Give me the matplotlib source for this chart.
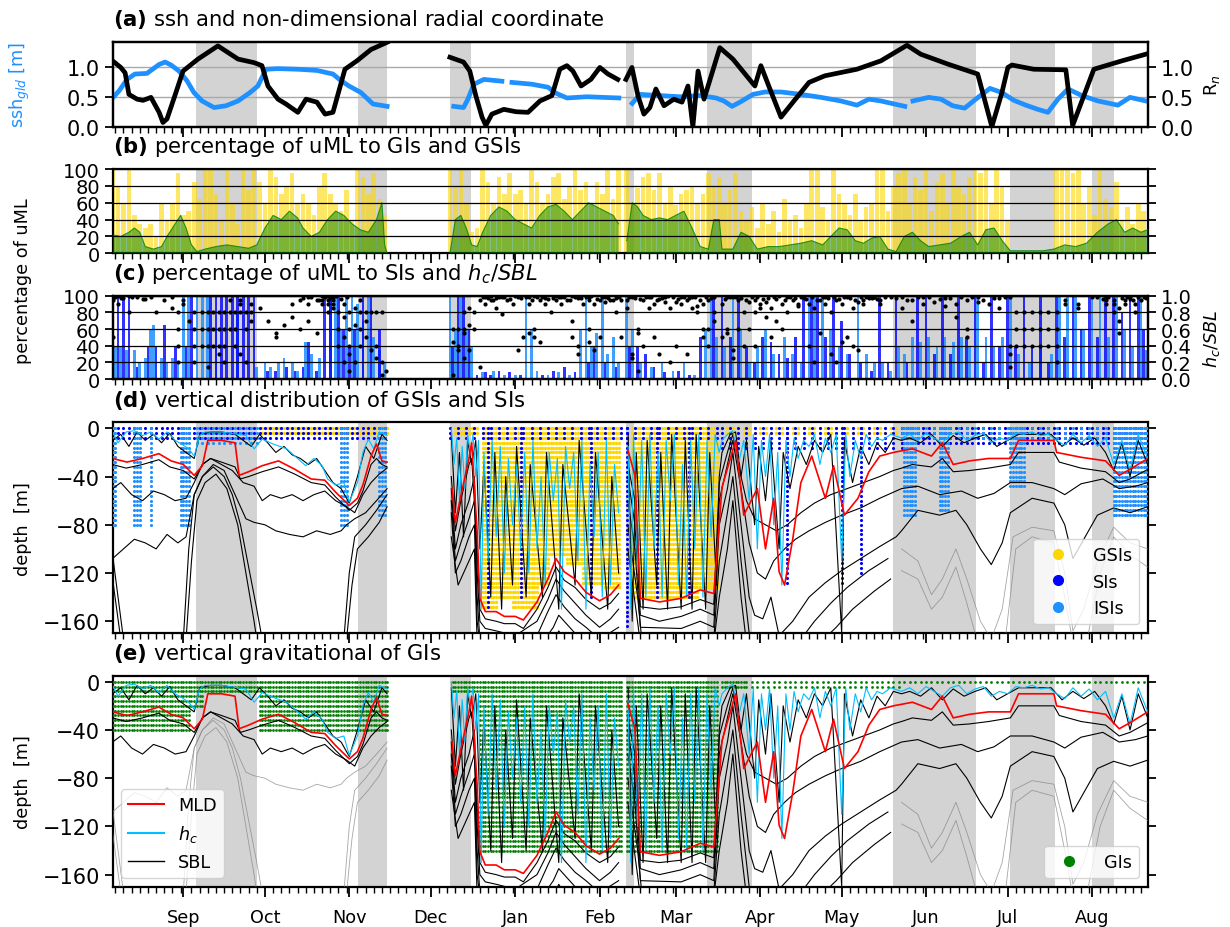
import numpy as np
import matplotlib
matplotlib.use('Agg')
import matplotlib.pyplot as plt
import matplotlib.dates as mdates
from matplotlib.lines import Line2D

plt.rcParams['font.family'] = ['DejaVu Sans']
plt.rcParams['font.size'] = 12.7
plt.rcParams['axes.linewidth'] = 1.6
YTS = 15     # y tick label size, panels a, d, e
YTS_S = 14   # y tick label size, narrow panels b, c

nan = np.nan
t0 = mdates.date2num(np.datetime64('2018-08-06'))   # left edge of the record
t_end = 380.6                                       # days shown

# shaded periods, days since t0
shade = [(30.6, 53.1), (90.2, 100.9), (124.0, 131.7), (188.7, 191.6),
         (218.5, 235.0), (286.8, 317.3), (329.8, 346.3), (359.9, 368.0)]

# ---------------- (a) ssh and R_n ----------------
ssh = [
    [(0, .48), (2.4, .60), (5.3, .79), (8.2, .88), (12.6, .89), (17.1, 1.04), (19.3, 1.08), (21.5, 1.03),
     (24.4, .93), (27.3, .77), (29.9, .57), (32.9, .43), (37.3, .32), (41.7, .35), (46.1, .43), (50.5, .57),
     (53.4, .68), (56.4, .96), (60.8, .97), (68.1, .96), (75.1, .94), (81, .88), (83.9, .77), (86.9, .68),
     (91.3, .57), (95.7, .38), (100.9, .34)],
    [(125.4, .34), (129, .32), (130.6, .46), (132.8, .71), (136.5, .79), (143.1, .76)],
    [(146.8, .74), (154.1, .71), (160, .66), (163, .56), (167, .48), (174.3, .50), (186.1, .48)],
    [(191, .39), (193.8, .54), (201.2, .52), (208.5, .50), (215.9, .52), (221.8, .48), (224.7, .43),
     (227.7, .34), (230.6, .41), (235.4, .54), (239.8, .58), (245.7, .58), (253, .54), (260.4, .49),
     (267.7, .43), (273.6, .36), (278, .46), (282.4, .43), (291.2, .34)],
    [(294.2, .43), (300, .49), (304.5, .46), (308.8, .35), (313.2, .31), (317.3, .46), (322.5, .64),
     (326.9, .57), (331.3, .44), (335.7, .36), (340.1, .29), (343.8, .24), (347.5, .46), (351.2, .63),
     (356.3, .52), (362.2, .43), (369.5, .36), (374, .49), (376.9, .46), (379.8, .43)],
]
rn = [
    [(0, 1.10), (3, .99), (4.6, .90), (6, .54), (9, .46), (11.2, .44), (14.1, .49), (17.1, .24), (18.5, .07),
     (20, .13), (22.9, .52), (25.9, .93), (31.4, 1.13), (38.7, 1.35), (46.1, 1.13), (52, 1.07), (54.9, 1.02),
     (57.1, .68), (60.8, .46), (63.7, .38), (68.1, .24), (71.1, .46), (75.1, .41), (78.1, .21), (81, .24),
     (85.4, .96), (89.8, 1.10), (95, 1.29), (100.9, 1.41)],
    [(124, 1.16), (129, 1.08), (131.3, .93), (133.5, .52), (135.8, .16), (137.2, .02), (139.4, .21),
     (143.8, .29), (148.3, .25), (152.7, .24), (157.1, .43), (161.5, .52), (164.4, .96), (167, 1.02),
     (169.2, .93), (172.2, .68), (175.8, .79), (179.1, .99), (182.1, .88), (185.7, .79)],
    [(188.7, .79), (190.9, .99), (193.1, .52), (195.3, .21), (197.5, .32), (199.7, .63), (202.7, .35),
     (206.3, .46), (209.3, .41), (211.5, .68), (213.3, 0.0), (215.2, .93), (217.4, .46), (223.2, 1.32),
     (228, 1.13), (236.1, .68), (238.3, 1.02), (241.2, .68), (245.7, .16), (250.1, .41), (256, .74),
     (261.8, .85), (273.6, .96), (282.4, 1.10), (292, 1.36), (297.1, 1.21), (307.4, 1.04), (318, .88),
     (323.2, 0.0), (326.9, .57), (329.1, .99), (330.6, 1.03), (338.6, .96), (350.4, .95), (352.9, .02),
     (360.7, .96), (371, 1.10), (380.5, 1.22)],
]

# ---------------- (b) GSIs (bars) and GIs (area), % of uML ----------------
gsi_day = [0, 2, 4, 6, 8, 10, 12, 14, 16, 18, 20, 22, 24, 26, 28, 30, 32, 34, 36, 38, 40, 42, 44, 46, 48, 50,
           52, 54, 56, 58, 60, 62, 64, 66, 68, 70, 72, 74, 76, 78, 80, 82, 84, 86, 88, 90, 92, 94, 96, 98, 100,
           124, 126, 128, 130, 132, 134, 136, 138, 140, 142, 144, 146, 148, 150, 152, 154, 156, 158, 160, 162,
           164, 166, 168, 170, 172, 174, 176, 178, 180, 182, 184, 186,
           189, 191, 193, 195, 197, 199, 201, 203, 205, 207, 209, 211, 213, 215, 217, 219, 221,
           223, 225, 227, 229, 231, 233, 235, 237, 239, 241, 243, 245, 247, 249, 251, 253, 255, 257, 259, 261,
           263, 265, 267, 269, 271, 273, 275, 277, 279, 281, 283, 285, 287, 289,
           291, 293, 295, 297, 299, 301, 303, 305, 307, 309, 311, 313, 315, 317, 319, 321, 323, 325, 327, 329,
           347, 349, 351, 353, 355, 357, 359, 361, 363, 365, 367, 369, 371, 373, 375, 377, 379]
gsi_pct = [100, 80, 60, 100, 45, 35, 30, 35, 20, 60, 40, 60, 95, 45, 50, 85, 65, 100, 100, 70, 40, 100, 60, 35,
           100, 75, 100, 85, 60, 100, 90, 70, 80, 95, 60, 70, 60, 45, 80, 95, 70, 60, 50, 75, 40, 100, 90, 70,
           95, 65, 45,
           100, 80, 100, 60, 25, 30, 100, 85, 60, 90, 70, 95, 70, 75, 60, 100, 85, 60, 70, 90, 95, 65, 80, 100,
           75, 85, 60, 85, 70, 100, 65, 100,
           100, 60, 77, 90, 95, 75, 95, 60, 80, 57, 70, 75, 80, 60, 70, 95, 80,
           90, 60, 75, 95, 50, 40, 55, 30, 60, 35, 50, 25, 65, 40, 45, 30, 60, 100, 100, 55, 40, 100, 70, 60,
           45, 70, 40, 55, 60, 100, 100, 50, 80, 95,
           100, 60, 90, 75, 100, 50, 85, 95, 60, 100, 80, 70, 90, 100, 95, 100, 60, 100, 80, 40,
           100, 100, 100, 95, 100, 60, 80, 45, 100, 65, 55, 85, 40, 55, 35, 60, 50]
gi_pct = [
    [(0, 22), (3, 20), (6, 25), (8, 30), (10, 25), (12, 8), (15, 5), (18, 8), (20, 20), (23, 35), (25, 45),
     (27, 30), (29, 10), (31, 2), (34, 5), (38, 8), (42, 10), (46, 8), (50, 6), (53, 10), (56, 30), (59, 45),
     (62, 40), (65, 50), (68, 42), (70, 30), (73, 20), (76, 25), (79, 40), (82, 50), (85, 45), (88, 35),
     (91, 28), (94, 25), (97, 40), (99, 60), (100, 10), (100.9, 0)],
    [(124, 0), (126, 40), (128, 45), (130, 30), (132, 10), (134, 8), (136, 25), (139, 45), (142, 55), (145, 50),
     (148, 40), (151, 35), (154, 30), (157, 45), (160, 55), (163, 58), (166, 50), (169, 40), (172, 50),
     (175, 60), (178, 55), (181, 50), (184, 45), (186, 35)],
    [(189, 15), (191, 60), (193, 55), (195, 45), (198, 40), (201, 42), (204, 40), (207, 45), (210, 50),
     (213, 30), (216, 8), (219, 5), (221, 40), (223, 40), (224, 5), (228, 5), (231, 25), (234, 20), (237, 5),
     (241, 8), (245, 8), (249, 10), (253, 12), (257, 15), (261, 10), (264, 20), (267, 30), (270, 28),
     (273, 15), (276, 12), (279, 18), (282, 20), (285, 5), (288, 2), (291, 20), (294, 25), (297, 15),
     (300, 8), (304, 10), (308, 12), (312, 20), (315, 25), (318, 10), (321, 28), (324, 30), (327, 15),
     (330, 3), (334, 3), (338, 3), (342, 3), (346, 5), (350, 10), (354, 8), (358, 12), (362, 25), (366, 35),
     (369, 40), (372, 25), (375, 30), (378, 25), (380.5, 28)],
]

# ---------------- (c) SIs / ISIs (bars) and h_c/SBL (dots) ----------------
isi_bar = [(0, 100), (1, 40), (3, 40), (5, 35), (8, 35), (10, 20), (12, 25), (14, 60), (15, 65), (18, 25),
           (20, 20), (22, 25), (24, 20), (26, 100), (28, 100), (31, 100), (33, 100), (35, 100), (38, 60),
           (46, 80), (53, 15), (56, 20), (58, 15), (61, 20), (63, 25), (66, 20), (68, 10), (71, 45), (73, 30),
           (76, 25), (80, 100), (82, 100), (84, 60), (86, 100), (88, 100), (90, 90), (92, 70), (94, 100),
           (96, 50), (98, 35), (100, 20),
           (124, 100), (126, 60), (128, 100), (130, 60), (132, 40), (136, 8), (140, 10), (144, 5), (148, 5),
           (152, 100), (154, 60), (156, 10), (160, 5), (164, 8), (168, 5), (172, 60), (174, 100), (176, 40),
           (178, 55), (180, 100), (182, 30), (184, 50), (186, 20),
           (189, 100), (191, 60), (194, 20), (198, 15), (202, 20), (206, 10), (210, 20), (214, 5), (218, 60),
           (220, 100), (222, 50), (225, 40), (228, 100), (231, 60), (234, 20), (237, 40), (240, 60), (243, 30),
           (247, 50), (250, 30), (253, 20), (256, 100), (258, 100), (261, 100), (264, 60), (267, 40), (270, 30),
           (274, 100), (277, 30), (280, 20), (283, 20), (286, 10), (289, 40),
           (291, 30), (294, 50), (297, 45), (300, 50), (303, 40), (306, 50), (309, 45), (312, 50), (315, 40),
           (318, 100), (321, 50), (324, 40), (327, 50), (330, 100), (333, 30), (337, 20), (341, 40), (345, 30),
           (348, 100), (351, 100), (354, 100), (357, 60), (360, 100), (363, 100), (366, 50), (369, 100),
           (372, 60), (375, 40), (378, 100), (380, 35)]
si_bar = [(2, 100), (4, 100), (6, 100), (9, 15), (13, 40), (16, 40), (19, 65), (23, 40), (27, 40), (29, 100),
          (36, 100), (38, 100), (40, 100), (42, 100), (44, 100), (46, 100), (48, 100), (50, 100), (52, 100),
          (57, 10), (60, 10), (64, 15), (67, 10), (70, 15), (72, 45), (75, 10), (78, 100), (80, 100), (83, 100),
          (85, 60), (87, 40), (89, 60), (92, 100), (95, 100), (98, 60),
          (125, 40), (127, 100), (129, 100), (131, 60), (134, 5), (137, 8), (139, 5), (142, 10), (146, 8),
          (150, 5), (158, 5), (162, 10), (166, 15), (170, 8), (175, 20), (177, 40), (181, 20), (185, 15),
          (190, 40), (193, 40), (196, 30), (199, 15), (203, 8), (208, 10), (212, 5), (216, 50), (221, 100),
          (224, 100), (227, 50), (230, 100), (233, 40), (236, 20), (239, 50), (242, 45), (245, 30), (248, 25),
          (251, 50), (254, 100), (257, 100), (259, 100), (262, 50), (265, 100), (268, 70), (271, 30), (275, 20),
          (279, 10), (282, 100), (285, 20), (288, 100),
          (292, 20), (296, 100), (299, 100), (302, 30), (305, 100), (308, 30), (311, 100), (314, 50), (317, 100),
          (320, 20), (323, 100), (326, 40), (329, 100), (332, 40), (335, 100), (338, 40), (341, 100), (344, 20),
          (347, 100), (350, 50), (353, 100), (356, 60), (359, 100), (362, 50), (365, 100), (368, 100),
          (371, 80), (374, 100), (377, 100), (379, 60)]
ratio_day = [0, 2, 4, 6, 9, 12, 16, 19, 22, 24, 26, 28, 30, 33, 35, 37, 39, 41, 43, 45, 47, 49, 51, 54, 57,
             60, 63, 66, 69, 72, 75, 77, 79, 81, 83, 85, 87, 89, 91, 93, 95, 97, 99, 100.5,
             125, 127, 129, 131, 133, 135, 137, 139, 141, 143, 145, 147, 149, 151, 153, 155, 157, 159, 161,
             163, 165, 167, 169, 171, 173, 175, 177, 179, 181, 183, 185, 187,
             189, 191, 193, 195, 197, 199, 201, 203, 205, 207, 209, 211, 213, 215, 217, 219, 221,
             224, 226, 228, 230, 232, 234, 236, 238, 240, 242, 244, 246, 248, 250, 252, 254, 256, 258, 260,
             262, 264, 266, 268, 270, 272, 274, 276, 278, 280, 282,
             290, 294, 298, 302, 306, 310, 314, 318, 322, 326, 330, 332, 335, 338, 341, 344, 347, 350, 355,
             360, 365, 368, 370, 372, 374, 376, 378, 380]
ratio_val = [[.5, .95, 1], [.9, 1], [.97], [1, .8], [.98], [.96], [.8], [.95], [.98, .85], [.6, .4, .2, .8],
             [.9, .95], [.7], [.8, .6, .4, .2], [.8, .6, .4], [.8, .6, .4, .15], [.6, .4, .8], [.8, .6, .4, .3],
             [.8, .6, .4, .2], [.8, .6, .95], [.8, .6, .4], [.9, .95, .8, .3], [.8, .6, .2], [.9, .8, .7], [.85],
             [.7], [.55, .5], [.65], [.9, .75], [.95, .6], [.98, .9, .7], [.95, .55], [1, .9, .95],
             [1, .95, .8, .9], [.98, .85, .9, .95], [.6, .4, .8], [.9, .75, .5, .2], [.8, .6, .4, .3, .1],
             [.85, .65, .2], [.8, .6, .4, .95], [.8, .7, .5], [.8, .35], [.8, .4, .25], [.8, .2, .05], [.1],
             [.05, .45, .6], [.6, .4, .35], [.8, .6, .55, .25], [.85, .65, .35], [.8, .6], [.95, .15], [.98, .9],
             [1, .95], [.85, .97], [.78, .98], [.95], [.9], [.98, .35], [.5], [.9, .98, .55], [1, .6, .5],
             [.95, .45], [.97, .9], [.8], [.95, 1], [.98, .9], [.95], [1, .7, .5], [.97, .4, .3], [.9],
             [.98, .95, .6, .45], [.9, .35], [.95, .5], [.92, .98], [.95], [.97, .8], [.95, .5],
             [.95, .85], [.98, .3, .25], [.6, .55, .1], [.95, .4], [.99, .85], [.9, .5], [.96, .3], [.92, .98],
             [.85, .2], [.93, .4], [.99, .9], [.95, .3], [.98, .85], [.88, .8], [.9, .6, .5], [.95, .6, .4],
             [.99, .8, .7],
             [.9, .5], [.98, .6, .55], [.98, .35, .25], [.95, .6], [.8, .4], [.92, .6], [.8, .95, .4],
             [.9, .85], [.93, .75], [.85, .5], [.96, .7], [.9, .6], [.98, .8], [.95], [.88, .9], [.97],
             [.9, .4], [.85, .2], [.95, .55], [.9, .98], [.8, .3], [.95, .2], [.9, .45], [.98, .5], [.85, .4],
             [.92, .35], [.95, .9], [.97], [.98, .99], [.95, .9],
             [.98, .85], [.95, .7], [.9, .98], [.93], [.88, .97], [.9, .75], [.95, .6, .5], [.98, .92], [.9],
             [.85, .97], [.98, .4, .3, .15], [.8, .6, .4], [.8, .6, .4], [.8, .6, .4], [.8, .6, .4],
             [.8, .6, .4], [.8, .6, .4, .2], [.9, .95], [.9, .85], [.98], [.99, .95, .9], [.9, .8, .95],
             [.85, .55, .7], [.95, .9], [.98, .96], [.9, .8], [.95], [.97]]
# extra h_c/SBL values close to 1 (dense band at the top of panel c)
top_day = [1, 3, 7, 11, 14, 70, 73, 76, 78, 80, 82, 84, 86, 136, 138, 140, 142, 144, 146, 148, 150, 152, 154,
           156, 158, 160, 162, 164, 166, 168, 170, 172, 174, 176, 178, 180, 182, 184, 186, 190, 192, 194,
           196, 198, 200, 202, 204, 206, 208, 210, 212, 214, 216, 218, 220, 225, 227, 229, 231, 233, 235, 237,
           239, 241, 243, 245, 247, 249, 251, 253, 255, 257, 259, 261, 263, 265, 267, 269, 271, 273, 275, 277,
           279, 281, 284, 286, 288, 292, 296, 300, 304, 308, 312, 316, 320, 324, 328, 362, 364, 366, 371, 373,
           375, 377, 379]
top_val = [.99, .97, .98, .96, .99, .97, .99, .95, .98, .97, 1, .96, .98, .99, .97, .95, .99, .98, .96, 1, .97,
           .99, .95, .98, .99, .96, .97, .99, .98, .95, .99, .97, .98, 1, .96, .99, .97, .95, .98, .99, .97,
           .96, .98, .99, .95, .97, 1, .98, .96, .99, .97, .98, .95, .99, .97, .96, .98, .99, .97, .95, .99,
           .98, .96, .97, .99, 1, .95, .98, .97, .99, .96, .98, .95, .99, .97, .98, .96, .99, .97, .95, .98,
           .99, .97, .96, .98, .99, .97, .95, .99, .98, .96, .97, .99, .98, .95, .97, .99, .98, .96, .99, .97,
           .98, .95, .99, .98]

# ---------------- (d)/(e) depth lines [m] ----------------
mld = [
    [(0, -25), (5.3, -28), (11, -25), (17, -21), (21.5, -27), (26, -30), (30, -39), (33, -31), (35, -10),
     (40, -10), (45, -12), (46.5, -39), (50, -36), (55, -31), (61, -27), (67, -34), (73, -42), (78, -43),
     (82, -53), (87, -64), (90, -58), (92, -47), (95, -23), (97, -13), (99, -27), (100.9, -28)],
    [(124.8, -50), (126, -78), (128, -56), (131, -25), (132, -12), (134, -86), (135, -141), (137, -152),
     (141, -152), (144, -156), (148, -156), (151, -159), (156, -144), (160, -125), (163, -108), (166, -119),
     (170, -125), (174, -136), (179, -143), (183, -138), (186, -130)],
    [(189.4, -18), (192, -39), (194, -141), (201, -144), (209, -141), (216, -134), (221, -137), (224, -49),
     (229, -10), (232, -72), (237, -50), (240, -100), (243, -58), (245, -119), (247, -130), (250, -92),
     (253, -45), (257, -23), (262, -58), (265, -31), (269, -72), (274, -58), (278, -36), (282, -23),
     (287, -20), (294, -17), (301, -23), (305, -12), (309, -30), (315, -27), (322, -25), (330, -25),
     (333, -10), (346, -10), (347, -20), (356, -24), (365, -27), (370, -39), (374, -34), (380.5, -25)],
]
hc = [
    [(0, -3), (2, -12), (5, -3), (8, -2), (11, -6), (14, -3), (17, -9), (20, -3), (23, -10), (26, -14),
     (28, -17), (30, -23), (32, -6), (34, -3), (40, -3), (46, -5), (49, -6), (52, -17), (55, -9), (59, -13),
     (64, -17), (68, -25), (71, -31), (74, -25), (77, -31), (79, -42), (82, -47), (85, -45), (87, -61),
     (90, -45), (92, -20), (94, -9), (96, -17), (98, -3), (100.9, -6)],
    [(124.5, 0), (125.5, -30), (126.5, -8), (127.5, -60), (128.5, -15), (129.5, -50), (130.5, -5),
     (131.5, -20), (132.5, -5), (133.5, -40), (134.5, -10), (135.5, -150), (136.5, -20), (138, -110),
     (139.5, -10), (141, -90), (142.5, -15), (144, -120), (145.5, -25), (147, -80), (148.5, -30), (150, -100),
     (151.5, -20), (153, -120), (154.5, -10), (156, -100), (157.5, -40), (159, -130), (160.5, -20),
     (162, -60), (163.5, -25), (165, -150), (166.5, -15), (168, -50), (169.5, -20), (171, -110),
     (172.5, -10), (174, -150), (175.5, -30), (177, -90), (178.5, -20), (180, -140), (181.5, -10),
     (183, -130), (184.5, -30), (186, -70)],
    [(189.5, -15), (190.5, -150), (191.5, -5), (193, -120), (194.5, -10), (196, -140), (197.5, -5),
     (199, -100), (200.5, -20), (202, -140), (203.5, -10), (205, -60), (206.5, -5), (208, -130), (209.5, -30),
     (211, -140), (212.5, -10), (214, -100), (215.5, -5), (217, -140), (218.5, -10), (220, -90), (221.5, -5),
     (223, -20), (224, -10), (226, -5), (228, -2), (230, -30), (232, -10), (234, -60), (235.5, -5),
     (237, -100), (238.5, -10), (240, -40), (241.5, -5), (243, -80), (244.5, -20), (246, -130), (247.5, -10),
     (249, -40), (250.5, -8), (252, -25), (254, -10), (256, -15), (258, -5), (260, -30), (262, -8),
     (264, -20), (266, -5), (268, -110), (269.5, -5), (271, -40), (273, -10), (275, -25), (277, -5),
     (279, -15), (281, -8), (283, -10), (286, -5), (290, -8), (293, -5), (296, -10), (299, -4), (302, -8),
     (305, -12), (308, -5), (311, -3), (314, -10), (317, -6), (320, -4), (323, -12), (326, -8), (329, -10),
     (332, -4), (335, -5), (338, -3), (341, -6), (344, -5), (347, -10), (350, -14), (353, -5), (356, -12),
     (359, -6), (362, -15), (365, -8), (368, -30), (371, -10), (374, -35), (377, -5), (380.5, -25)],
]
sbl1 = [
    [(0, -10), (3, -5), (6, -15), (9, -3), (12, -10), (15, -5), (18, -12), (21, -4), (24, -15), (27, -20),
     (30, -25), (32, -5), (36, -3), (40, -3), (45, -5), (48, -10), (51, -15), (54, -5), (57, -12), (60, -20),
     (63, -15), (66, -22), (69, -25), (72, -30), (75, -25), (78, -35), (81, -45), (84, -50), (87, -62),
     (90, -40), (93, -15), (96, -25), (99, -5), (100.9, -10)],
    [(124.5, -5), (126, -70), (127.5, -20), (129, -90), (130.5, -10), (132, -30), (133.5, -10), (135, -100),
     (136.5, -30), (139, -140), (140.5, -20), (143, -150), (144.5, -40), (147, -130), (148.5, -15),
     (152, -140), (153.5, -30), (158, -140), (159.5, -20), (164, -150), (165.5, -30), (170, -130),
     (171.5, -10), (176, -140), (177.5, -20), (182, -150), (183.5, -40), (186, -120)],
    [(189.5, -5), (191, -160), (192.5, -20), (195, -150), (196.5, -10), (200, -130), (201.5, -20), (204, -150),
     (205.5, -5), (209, -150), (210.5, -10), (213, -150), (214.5, -5), (218, -150), (219.5, -20), (222, -130),
     (223, -40), (224, -20), (227, -5), (229, -3), (231, -40), (233, -10), (236, -80), (237.5, -15),
     (240, -60), (242, -10), (245, -100), (246.5, -20), (249, -50), (252, -15), (255, -30), (258, -10),
     (261, -20), (264, -5), (268, -170), (269, -10), (272, -45), (275, -15), (278, -30), (281, -12),
     (284, -20), (287, -8), (290, -10), (293, -8), (297, -12), (301, -5), (305, -15), (309, -6), (313, -12),
     (317, -8), (321, -5), (325, -15), (329, -10), (333, -5), (337, -5), (341, -5), (345, -5), (349, -15),
     (353, -8), (357, -14), (361, -8), (365, -20), (368, -35), (371, -12), (374, -40), (377, -10),
     (380.5, -30)],
]
sbl2 = [
    [(0, -30), (5, -33), (11, -30), (17, -26), (21, -32), (26, -35), (30, -42), (33, -30), (36, -25),
     (40, -28), (45, -32), (47, -42), (50, -40), (55, -36), (61, -32), (67, -38), (73, -45), (78, -47),
     (82, -57), (87, -68), (90, -62), (92, -52), (95, -30), (97, -25), (99, -30), (100.9, -32)],
    [(124.5, -40), (126, -85), (128, -60), (131, -30), (132, -25), (134, -100), (135, -150), (137, -158),
     (141, -160), (144, -162), (148, -162), (151, -166), (156, -150), (160, -132), (163, -115), (166, -126),
     (170, -132), (174, -142), (179, -150), (183, -145), (186, -137)],
    [(189.4, -30), (192, -60), (194, -148), (201, -150), (209, -148), (216, -142), (221, -146), (223, -45),
     (226, -20), (228, -5), (230, -30), (233, -60), (236, -75), (240, -80), (244, -85), (248, -80),
     (253, -70), (258, -62), (264, -55), (270, -50), (276, -45), (282, -40), (287, -35), (290, -33),
     (294, -30), (301, -32), (305, -25), (309, -36), (315, -35), (322, -33), (330, -30), (333, -20),
     (346, -20), (348, -28), (356, -33), (365, -36), (370, -45), (374, -42), (380.5, -34)],
]
sbl3 = [
    [(0, -50), (3, -45), (7, -55), (11, -60), (15, -52), (19, -55), (23, -60), (27, -58), (30, -45),
     (33, -30), (36, -25), (40, -30), (44, -35), (48, -45), (52, -48), (55, -60), (58, -55), (62, -58),
     (66, -55), (70, -60), (74, -55), (78, -52), (82, -60), (86, -65), (89, -70), (92, -55), (95, -45),
     (98, -38), (100.9, -33)],
    [(124.5, -50), (126, -100), (128, -80), (131, -60), (133, -40), (134, -120), (135, -160), (137, -166),
     (141, -168), (148, -172), (156, -160), (160, -142), (163, -125), (166, -135), (170, -145), (174, -155),
     (179, -165), (183, -158), (186, -150)],
    [(189.4, -40), (192, -80), (194, -155), (201, -160), (209, -156), (216, -150), (221, -155), (223, -60),
     (226, -30), (228, -10), (231, -50), (234, -95), (237, -120), (240, -125), (243, -110), (247, -100),
     (251, -92), (256, -85), (262, -78), (268, -72), (275, -66), (282, -58), (288, -52), (290, -50),
     (296, -48), (304, -55), (312, -52), (318, -58), (324, -54), (330, -45), (338, -45), (346, -50),
     (350, -55), (356, -46), (364, -42), (370, -50), (376, -48), (380.5, -45)],
]
sbl4 = [
    [(0, -108), (4, -100), (8, -92), (12, -95), (16, -100), (20, -88), (24, -95), (27, -90), (30, -55),
     (33, -40), (37, -30), (41, -35), (45, -55), (49, -75), (52, -78), (56, -80), (60, -85), (65, -88),
     (70, -90), (75, -85), (80, -88), (84, -85), (86, -80), (89, -75), (93, -70), (97, -60), (100.9, -50)],
    [(124.5, -60), (126, -110), (128, -95), (131, -75), (133, -60), (134, -140), (135, -175), (156, -172),
     (160, -152), (163, -138), (166, -148), (170, -158), (174, -165), (179, -175), (186, -165)],
    [(189.4, -60), (192, -100), (194, -165), (209, -166), (216, -160), (221, -165), (223, -80), (226, -50),
     (228, -20), (231, -80), (234, -140), (236, -155), (239, -158), (242, -140), (245, -172), (250, -160),
     (256, -140), (262, -128), (268, -118), (275, -108), (282, -98), (288, -90), (290, -85), (296, -68),
     (304, -72), (310, -68), (314, -80), (319, -100), (323, -113), (327, -95), (330, -70), (338, -58),
     (346, -62), (350, -80), (353, -108), (357, -92), (362, -72), (368, -66), (374, -70), (380.5, -65)],
]
sbl5 = [
    [(0, -105), (2, -140), (4, -175), (26, -175), (28, -100), (30, -55), (33, -40), (37, -32), (41, -40),
     (44, -55), (47, -80), (50, -115), (53, -150), (55, -175), (85, -175), (87, -120), (89, -90), (93, -80),
     (97, -68), (100.9, -55)],
    [(124.5, -70), (126, -120), (128, -110), (131, -90), (133, -80), (134, -160), (135, -178), (158, -178),
     (162, -165), (164, -155), (168, -165), (172, -175), (186, -178)],
    [(189.4, -80), (193, -140), (194.5, -175), (214, -175), (218, -170), (221, -175), (223, -110), (226, -70),
     (228, -40), (231, -110), (234, -170), (237, -178), (252, -178), (258, -160), (264, -145), (270, -132),
     (278, -118), (285, -108), (290, -100), (296, -110), (301, -138), (305, -125), (310, -100), (314, -125),
     (319, -160), (323, -175), (327, -150), (331, -90), (338, -82), (346, -85), (350, -120), (353, -168),
     (357, -150), (362, -110), (368, -82), (374, -95), (380.5, -100)],
]
sbl6 = [
    [(0, -125), (3, -175), (27, -175), (29, -110), (31, -60), (34, -45), (38, -38), (42, -50), (46, -80),
     (49, -120), (52, -160), (53, -175), (86, -175), (88, -130), (90, -100), (94, -90), (98, -78),
     (100.9, -65)],
    [(124.5, -90), (127, -130), (131, -110), (133, -100), (134, -178), (162, -178), (164, -168), (166, -175),
     (186, -178)],
    [(189.4, -100), (194, -178), (221, -178), (223, -140), (226, -100), (228, -60), (231, -140), (233, -178),
     (260, -178), (266, -165), (272, -150), (280, -135), (286, -125), (290, -118), (296, -125), (301, -150),
     (305, -140), (310, -115), (314, -145), (318, -178), (328, -178), (332, -100), (338, -90), (346, -95),
     (350, -140), (353, -178), (358, -178), (363, -120), (368, -90), (374, -105), (380.5, -115)],
]

# instability occurrence: (first day, last day, deepest level [m], day step); levels every 4 m
gsi_blocks = [(55, 101, -4, 1), (126, 134, -4, 1), (136, 141, -148, 1), (142, 146, -140, 1),
              (147, 156, -150, 1), (157, 160, -130, 1), (161, 166, -105, 1), (167, 172, -115, 1),
              (173, 180, -130, 1), (181, 186, -135, 1), (191, 200, -140, 1), (201, 215, -140, 1),
              (216, 222, -135, 1), (224, 290, -4, 2), (292, 380, 0, 2)]
si_blocks = [(0, 101, -8, 2), (124, 187, -8, 3), (138, 138, -150, 1), (150, 150, -140, 1),
             (176, 176, -140, 1), (189, 189, -165, 1), (189, 222, -8, 3), (200, 200, -140, 1),
             (212, 212, -140, 1), (224, 290, -16, 3), (248, 248, -130, 1), (268, 268, -130, 1),
             (275, 275, -120, 1), (290, 380, -12, 2)]
isi_blocks = [(0, 1, -80, 1), (8, 10, -80, 1), (14, 14, -80, 1), (25, 28, -80, 1), (31, 53, -12, 2),
              (84, 86, -80, 1), (98, 100, -72, 1), (291, 295, -75, 1), (304, 307, -70, 1),
              (330, 335, -50, 1), (368, 380, -75, 1), (290, 380, -8, 3)]
gi_blocks = [(0, 28, -40, 1), (29, 33, -20, 1), (34, 53, -8, 1), (54, 101, -40, 1), (125, 134, -8, 1),
             (135, 187, -140, 1), (189, 222, -140, 1), (224, 232, -4, 1), (233, 290, -4, 2), (291, 380, 0, 2)]


def seg_xy(segs):
    xs, ys = [], []
    for s in segs:
        a = np.array(s, float)
        xs += [a[:, 0], [nan]]
        ys += [a[:, 1], [nan]]
    return np.concatenate(xs), np.concatenate(ys)


def block_pts(blocks):
    xs, ys = [], []
    for d0, d1, bot, step in blocks:
        cols = np.arange(d0, d1 + 0.01, step)
        rows = np.arange(0, bot - 0.01, -4.0)
        X, Y = np.meshgrid(cols, rows)
        xs.append(X.ravel())
        ys.append(Y.ravel())
    return t0 + np.concatenate(xs), np.concatenate(ys)


def in_ranges(d, ranges):
    m = np.zeros(d.shape, bool)
    for a, b in ranges:
        m |= (d >= a) & (d <= b)
    return m


def time_axis(ax, labels=False, ysize=YTS):
    for a, b in shade:
        ax.axvspan(t0 + a, t0 + b, color='lightgray', lw=0, zorder=0)
    ax.set_xlim(t0, t0 + t_end)
    ax.xaxis.set_major_locator(mdates.MonthLocator())
    ax.xaxis.set_minor_locator(mdates.DayLocator(bymonthday=range(1, 32, 3)))
    ax.xaxis.set_major_formatter(mdates.DateFormatter('%b'))
    ax.tick_params(axis='x', which='major', length=7, width=1.3, pad=8)
    ax.tick_params(axis='x', which='minor', length=4, width=1)
    ax.tick_params(axis='y', labelsize=ysize, length=6, width=1.3, pad=3)
    ax.tick_params(labelbottom=labels)


L = 112.6 / 1230
W = (1148 - 112.6) / 1230
def rect(top, bot):
    return [L, 1 - bot / 928, W, (bot - top) / 928]

fig = plt.figure(figsize=(12.3, 9.28), dpi=100)
ax_a = fig.add_axes(rect(42.7, 127.7))
ax_b = fig.add_axes(rect(170, 254.3))
ax_c = fig.add_axes(rect(296.7, 380))
ax_d = fig.add_axes(rect(423.3, 634.3))
ax_e = fig.add_axes(rect(676.7, 887.7))
ylab_x = -0.0776

# (a)
time_axis(ax_a)
ax_a.set_ylim(0, 1.42)
ax_a.set_yticks([0, 0.5, 1.0])
ax_a.set_yticklabels(['0.0', '0.5', '1.0'])
for v in (0.5, 1.0):
    ax_a.axhline(v, color='darkgray', lw=1, zorder=1)
x, y = seg_xy(ssh)
ax_a.plot(t0 + x, y, color='dodgerblue', lw=3.4, zorder=3)
ax_a.set_ylabel('ssh$_{gld}$ [m]', color='dodgerblue')
ax_a.yaxis.set_label_coords(ylab_x, 0.5)
ax_a2 = ax_a.twinx()
ax_a2.set_ylim(0, 1.42)
ax_a2.set_yticks([0, 0.5, 1.0])
ax_a2.set_yticklabels(['0.0', '0.5', '1.0'])
ax_a2.tick_params(axis='y', labelsize=YTS, length=6, width=1.3, pad=3)
x, y = seg_xy(rn)
ax_a2.plot(t0 + x, y, color='k', lw=3.4, zorder=3)
ax_a2.set_ylabel('R$_n$', labelpad=6)
ax_a.set_title(r'$\bf{(a)}$ ssh and non-dimensional radial coordinate', loc='left', pad=12)

# (b)
time_axis(ax_b, ysize=YTS_S)
ax_b.bar(t0 + np.array(gsi_day), gsi_pct, width=1.7, color='gold', alpha=0.6, lw=0, zorder=2)
x, y = seg_xy(gi_pct)
ax_b.fill_between(t0 + x, 0, y, color='green', alpha=0.5, lw=0, zorder=3)
ax_b.plot(t0 + x, y, color='green', lw=0.8, alpha=0.8, zorder=3)
ax_b.set_ylim(0, 100)
ax_b.set_yticks(range(0, 101, 20))
for v in range(20, 101, 20):
    ax_b.axhline(v, color='k', lw=0.9, zorder=4)
ax_b.tick_params(axis='y', right=True)
ax_b.set_title(r'$\bf{(b)}$ percentage of uML to GIs and GSIs', loc='left', pad=12)

# (c)
time_axis(ax_c, ysize=YTS_S)
a = np.array(isi_bar, float)
ax_c.bar(t0 + a[:, 0], a[:, 1], width=1.0, color='dodgerblue', alpha=0.85, lw=0, zorder=2)
a = np.array(si_bar, float)
ax_c.bar(t0 + a[:, 0], a[:, 1], width=1.0, color='blue', alpha=0.8, lw=0, zorder=2)
ax_c.set_ylim(0, 100)
ax_c.set_yticks(range(0, 101, 20))
for v in range(20, 101, 20):
    ax_c.axhline(v, color='k', lw=0.9, zorder=4)
ax_c2 = ax_c.twinx()
n_top = min(len(top_day), len(top_val))
rd = np.concatenate([[d] * len(v) for d, v in zip(ratio_day, ratio_val)] + [top_day[:n_top]])
rv = np.concatenate(ratio_val + [top_val[:n_top]])
ax_c2.scatter(t0 + rd, rv, s=9, color='k', lw=0, zorder=5)
ax_c2.set_ylim(0, 1)
ax_c2.set_yticks(np.arange(0, 1.01, 0.2))
ax_c2.set_yticklabels(['0.0', '0.2', '0.4', '0.6', '0.8', '1.0'])
ax_c2.tick_params(axis='y', labelsize=YTS_S, length=6, width=1.3, pad=3)
ax_c2.set_ylabel('$h_c/SBL$', labelpad=7)
ax_c.set_title(r'$\bf{(c)}$ percentage of uML to SIs and $h_c/SBL$', loc='left', pad=12)
fig.text(23.5 / 1230, 1 - 281.5 / 928, 'percentage of uML', rotation=90, ha='center', va='center')


def depth_lines(ax, gray_sets):
    for k, line in enumerate([sbl6, sbl5, sbl4, sbl3, sbl2, sbl1]):
        d, y = seg_xy(line)
        m = in_ranges(d, gray_sets.get(6 - k, []))
        ax.plot(t0 + d, np.where(m, nan, y), color='k', lw=0.8, zorder=4)
        ax.plot(t0 + d, np.where(m, y, nan), color='gray', lw=0.6, alpha=0.7, zorder=4)
    d, y = seg_xy(hc)
    ax.plot(t0 + d, y, color='deepskyblue', lw=0.8, zorder=5)
    d, y = seg_xy(mld)
    ax.plot(t0 + d, y, color='red', lw=1.2, zorder=6)
    ax.set_ylim(-170, 5)
    ax.set_yticks([0, -40, -80, -120, -160])
    ax.set_yticklabels(['0', '\u221240', '\u221280', '\u2212120', '\u2212160'])
    ax.tick_params(axis='y', right=True)
    ax.set_ylabel('depth  [m]')
    ax.yaxis.set_label_coords(ylab_x, 0.5)


# (d)
time_axis(ax_d)
for blocks, col, sz in ((gsi_blocks, 'gold', 6), (si_blocks, 'blue', 5), (isi_blocks, 'dodgerblue', 5)):
    px, py = block_pts(blocks)
    ax_d.scatter(px, py, s=sz, color=col, lw=0, zorder=3)
depth_lines(ax_d, {5: [(286.8, 381)], 6: [(286.8, 381)]})
hd = [Line2D([], [], ls='', marker='o', ms=7, color=c) for c in ('gold', 'blue', 'dodgerblue')]
ax_d.legend(hd, ['GSIs', 'SIs', 'ISIs'], loc='lower right', handletextpad=1.0)
ax_d.set_title(r'$\bf{(d)}$ vertical distribution of GSIs and SIs', loc='left', pad=12)

# (e)
time_axis(ax_e, labels=True)
px, py = block_pts(gi_blocks)
ax_e.scatter(px, py, s=4, color='green', lw=0, zorder=3)
depth_lines(ax_e, {4: [(0, 101)], 5: [(0, 101), (286.8, 381)], 6: [(0, 101), (286.8, 381)]})
hl = [Line2D([], [], color='red', lw=1.5), Line2D([], [], color='deepskyblue', lw=1.5),
      Line2D([], [], color='k', lw=1)]
leg = ax_e.legend(hl, ['MLD', '$h_c$', 'SBL'], loc='lower left')
ax_e.add_artist(leg)
ax_e.legend([Line2D([], [], ls='', marker='o', ms=7, color='green')], ['GIs'], loc='lower right',
            handletextpad=1.0)
ax_e.set_title(r'$\bf{(e)}$ vertical gravitational of GIs', loc='left', pad=12)

fig.savefig('out.png', dpi=100)
